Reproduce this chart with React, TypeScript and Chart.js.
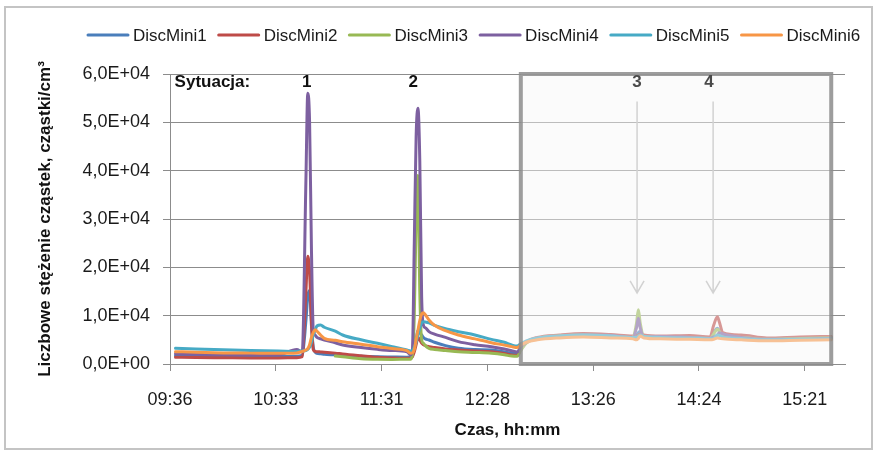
import React, { useEffect, useRef } from 'react';
import { Chart, registerables } from 'chart.js';

Chart.register(...registerables);

// ---------- data ----------
const seriesNames = ['DiscMini1', 'DiscMini2', 'DiscMini3', 'DiscMini4', 'DiscMini5', 'DiscMini6'];
const seriesColors = ['#4A7EBB', '#BE4B48', '#98B954', '#7D60A0', '#46AAC5', '#F79646'];

// time of day in minutes after midnight
const timeMinutes = [
  579, 590, 605, 620, 635,
  645, 648, 650, 651, 652,
  653, 654, 655, 656, 658,
  660, 666, 670, 680, 689,
  697, 705, 707, 708, 709,
  710, 711, 712, 713, 714,
  715, 717, 720, 726, 733,
  742, 751, 758, 762, 765,
  767, 770, 776, 788, 801,
  816, 828, 830, 831, 832,
  834, 843, 859, 870, 872,
  874, 875, 877, 887, 901,
  919, 936,
];

const discMini1 = [
  1700, 1650, 1600, 1550, 1550,
  1600, 1800, 9000, 14000, 15200,
  8000, 3500, 2500, 2200, 2100,
  2000, 1900, 1800, 1600, 1500,
  1450, 1400, 1500, 2000, 3000,
  5000, 7000, 6500, 6000, 5500,
  5200, 4970, 4500, 3800, 3250,
  3000, 2900, 2500, 2210, 2200,
  3200, 4500, 5300, 5800, 6000,
  5900, 5600, 6000, 6500, 6700,
  5800, 5600, 5600, 5400, 6500,
  7380, 7000, 6000, 5700, 5200,
  5400, 5500,
];

const discMini2 = [
  1400, 1350, 1300, 1250, 1250,
  1300, 1500, 15000, 22300, 19000,
  9000, 3000, 2600, 2550, 2500,
  2450, 2250, 2070, 1700, 1390,
  1250, 1170, 1200, 1500, 2500,
  4000, 5500, 5000, 4300, 4000,
  3800, 3590, 3400, 3100, 2900,
  2700, 2550, 2200, 1860, 1800,
  3000, 4500, 5500, 6000, 6300,
  6100, 5800, 5800, 6000, 6200,
  6000, 5800, 5900, 5600, 8000,
  9790, 8800, 6500, 6000, 5400,
  5600, 5700,
];

const discMini3 = [
  null, null, null, null, null,
  null, null, null, null, null,
  null, null, null, null, null,
  null, 1650, 1500, 1100, 970,
  950, 970, 1000, 2000, 10000,
  30000, 39000, 15000, 5000, 4300,
  3800, 3250, 3000, 2800, 2550,
  2400, 2210, 1900, 1650, 1600,
  2800, 4300, 5300, 5800, 6000,
  5800, 5500, 8500, 11200, 8500,
  5700, 5500, 5500, 5300, 6200,
  7170, 6800, 5800, 5500, 5100,
  5300, 5400,
];

const discMini4 = [
  2100, 2000, 1950, 1900, 1900,
  3000, 2500, 38000, 56000, 50000,
  24000, 7000, 6000, 5500, 5200,
  4970, 4400, 3930, 3400, 3030,
  2800, 2550, 1900, 3000, 25000,
  47000, 52900, 42000, 14000, 8000,
  7500, 6700, 6200, 5500, 4620,
  4000, 3590, 3100, 2760, 2500,
  3500, 4500, 5300, 5700, 6000,
  5900, 5500, 7500, 9450, 7500,
  5600, 5700, 5500, 5300, 5600,
  6000, 6480, 6200, 5500, 5100,
  5100, 5300,
];

const discMini5 = [
  3250, 3100, 2950, 2800, 2700,
  2600, 2700, 2800, 3000, 3500,
  4500, 6000, 7000, 7860, 8070,
  7600, 6800, 6000, 5000, 4280,
  3600, 2900, 2700, 2800, 3500,
  4500, 6000, 7500, 8500, 8760,
  8700, 8500, 8000, 7300, 6690,
  6000, 5100, 4500, 3930, 3700,
  4200, 4800, 5400, 5800, 6000,
  5800, 5500, 5500, 5800, 6000,
  5700, 5500, 5400, 5200, 5300,
  6000, 5900, 5600, 5300, 5000,
  5100, 5200,
];

const discMini6 = [
  2550, 2450, 2300, 2250, 2200,
  2300, 2600, 2900, 3200, 4000,
  5500, 6500, 7100, 6800, 6000,
  5300, 4900, 4620, 4100, 3590,
  3200, 2760, 2210, 2300, 3000,
  5000, 7000, 9000, 10300, 10600,
  10200, 9100, 8000, 6900, 6000,
  5200, 4410, 3900, 3590, 3400,
  3900, 4500, 5000, 5400, 5600,
  5400, 5200, 5000, 5300, 5800,
  5400, 5200, 5100, 5000, 5100,
  5400, 5300, 5200, 5000, 4800,
  4900, 5000,
];

const seriesValues = [discMini1, discMini2, discMini3, discMini4, discMini5, discMini6];

const xTickValues = [576, 633.6, 691.2, 748.8, 806.4, 864, 921.6];
const xTickLabels = ['09:36', '10:33', '11:31', '12:28', '13:26', '14:24', '15:21'];
const yTickLabels = ['0,0E+00', '1,0E+04', '2,0E+04', '3,0E+04', '4,0E+04', '5,0E+04', '6,0E+04'];

const situationTitle = 'Sytuacja:';
const situationLabels = ['1', '2', '3', '4'];
const situationTimes = [650.5, 708.4, 830.3, 869.5];
const arrowTimes = [830.3, 871.7];
const arrowValueRange = [54300, 14700];
const boxTimeRange = [767, 936];

const yAxisTitle = 'Liczbowe stężenie cząstek, cząstki/cm³';
const xAxisTitle = 'Czas, hh:mm';

const FONT = "'Liberation Sans', Arial, sans-serif";

export default function App() {
  const ref = useRef<HTMLCanvasElement>(null);

  useEffect(() => {
    document.body.style.margin = '0';
    const canvas = ref.current;
    if (!canvas) return;

    const decorPlugin = {
      id: 'decor',
      beforeDraw(chart: any) {
        const ctx = chart.ctx;
        ctx.save();
        ctx.fillStyle = '#ffffff';
        ctx.fillRect(0, 0, chart.width, chart.height);
        ctx.strokeStyle = '#c4c4c4';
        ctx.lineWidth = 2;
        ctx.strokeRect(5, 7, 867, 442);
        ctx.restore();
      },
      afterDatasetsDraw(chart: any) {
        const ctx = chart.ctx;
        const xs = chart.scales.x;
        const ys = chart.scales.y;
        const bx0 = xs.getPixelForValue(boxTimeRange[0]);
        const bx1 = xs.getPixelForValue(boxTimeRange[1]);
        const by0 = ys.getPixelForValue(60000);
        const by1 = ys.getPixelForValue(0);
        ctx.save();
        ctx.fillStyle = 'rgba(246,246,246,0.45)';
        ctx.fillRect(bx0, by0, bx1 - bx0, by1 - by0);
        ctx.strokeStyle = 'rgba(140,140,140,0.85)';
        ctx.lineWidth = 4;
        ctx.strokeRect(bx0, by0, bx1 - bx0, by1 - by0);

        // arrows
        ctx.strokeStyle = '#d2d2d2';
        ctx.lineWidth = 1.5;
        arrowTimes.forEach((t) => {
          const ax = xs.getPixelForValue(t);
          const ay0 = ys.getPixelForValue(arrowValueRange[0]);
          const ay1 = ys.getPixelForValue(arrowValueRange[1]);
          ctx.beginPath();
          ctx.moveTo(ax, ay0);
          ctx.lineTo(ax, ay1);
          ctx.moveTo(ax - 7, ay1 - 12);
          ctx.lineTo(ax, ay1);
          ctx.lineTo(ax + 7, ay1 - 12);
          ctx.stroke();
        });
        ctx.restore();
      },
      afterDraw(chart: any) {
        const ctx = chart.ctx;
        const xs = chart.scales.x;
        const ys = chart.scales.y;
        ctx.save();
        // situation labels
        ctx.font = `bold 17px ${FONT}`;
        ctx.textBaseline = 'middle';
        ctx.textAlign = 'left';
        ctx.fillStyle = '#111111';
        const ly = ys.getPixelForValue(58200);
        ctx.fillText(situationTitle, xs.getPixelForValue(578.5), ly);
        ctx.textAlign = 'center';
        situationLabels.forEach((lab, i) => {
          ctx.fillStyle = i < 2 ? '#111111' : '#4a4a4a';
          ctx.fillText(lab, xs.getPixelForValue(situationTimes[i]), ly);
        });

        // legend
        ctx.font = `17px ${FONT}`;
        ctx.textAlign = 'left';
        ctx.textBaseline = 'middle';
        const legendY = 35;
        seriesNames.forEach((name, i) => {
          const lx = 88 + i * 130.7;
          ctx.strokeStyle = seriesColors[i];
          ctx.lineWidth = 3;
          ctx.lineCap = 'round';
          ctx.beginPath();
          ctx.moveTo(lx, legendY);
          ctx.lineTo(lx + 40, legendY);
          ctx.stroke();
          ctx.fillStyle = '#1a1a1a';
          ctx.fillText(name, lx + 45, legendY + 1);
        });
        ctx.restore();
      },
    };

    const chart = new Chart(canvas, {
      type: 'line',
      data: {
        datasets: seriesNames.map((name, i) => ({
          label: name,
          data: timeMinutes.map((t, j) => ({ x: t, y: seriesValues[i][j] })),
          borderColor: seriesColors[i],
          backgroundColor: seriesColors[i],
          borderWidth: 3,
          pointRadius: 0,
          pointHoverRadius: 0,
          fill: false,
          spanGaps: false,
          cubicInterpolationMode: 'monotone',
          borderJoinStyle: 'round',
          borderCapStyle: 'round',
          order: seriesNames.length - 1 - i,
        })),
      },
      options: {
        animation: false,
        responsive: false,
        devicePixelRatio: 1,
        layout: { padding: { top: 74, right: 33, bottom: 0, left: 0 } },
        plugins: {
          legend: { display: false },
          tooltip: { enabled: false },
        },
        scales: {
          x: {
            type: 'linear',
            min: 576,
            max: 943.5,
            afterBuildTicks: (scale: any) => {
              scale.ticks = xTickValues.map((v) => ({ value: v }));
            },
            afterFit: (scale: any) => {
              scale.height = 91;
            },
            ticks: {
              autoSkip: false,
              maxRotation: 0,
              padding: 18,
              color: '#1a1a1a',
              font: { family: FONT, size: 18 },
              callback: (_v: any, i: number) => xTickLabels[i],
            },
            grid: {
              drawOnChartArea: false,
              drawTicks: true,
              tickLength: 7,
              tickColor: '#8c8c8c',
            },
            border: { display: true, color: '#8c8c8c', width: 1 },
            title: {
              display: true,
              text: xAxisTitle,
              color: '#111111',
              font: { family: FONT, size: 17, weight: 'bold' },
              padding: { top: 0, bottom: 14.8 },
            },
          },
          y: {
            type: 'linear',
            min: 0,
            max: 60000,
            afterFit: (scale: any) => {
              scale.width = 170;
            },
            ticks: {
              stepSize: 10000,
              padding: 13,
              color: '#1a1a1a',
              font: { family: FONT, size: 18 },
              callback: (_v: any, i: number) => yTickLabels[i],
            },
            grid: {
              color: '#8c8c8c',
              lineWidth: 1,
              drawTicks: true,
              tickLength: 7,
              tickColor: '#8c8c8c',
            },
            border: { display: true, color: '#8c8c8c', width: 1 },
            title: {
              display: true,
              text: yAxisTitle,
              color: '#111111',
              font: { family: FONT, size: 17, weight: 'bold' },
              padding: { top: 34.8, bottom: 0 },
            },
          },
        },
      },
      plugins: [decorPlugin],
    } as any);

    return () => chart.destroy();
  }, []);

  return (
    <div style={{ width: 878, height: 455, position: 'relative' }}>
      <canvas ref={ref} width={878} height={455} style={{ display: 'block' }} />
    </div>
  );
}
